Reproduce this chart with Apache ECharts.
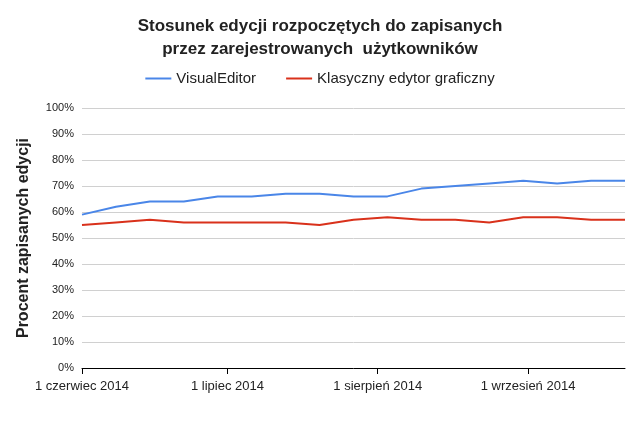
<!DOCTYPE html>
<html><head><meta charset="utf-8">
<script src="https://cdn.jsdelivr.net/npm/echarts@6/dist/echarts.min.js"></script>
<style>html,body{margin:0;padding:0;background:#fff}#c{width:640px;height:431px}</style>
</head><body><div id="c"></div>
<script>
const days = [0,7,14,21,28,35,42,49,56,63,70,77,84,91,98,105,112];
const visualEditor = [59,62,64,64,66,66,67,67,66,66,69,70,71,72,71,72,72];
const classic = [55,56,57,56,56,56,56,55,57,58,57,57,56,58,58,57,57];
const tickDays = [0,30,61,92];
const tickLabels = ['1 czerwiec 2014','1 lipiec 2014','1 sierpień 2014','1 wrzesień 2014'];
const font = '"Liberation Sans", Arial, sans-serif';
const chart = echarts.init(document.getElementById('c'));
chart.setOption({
  animation:false,
  title:{text:'Stosunek edycji rozpoczętych do zapisanych\nprzez zarejestrowanych  użytkowników',left:'center',top:10,
    textStyle:{fontFamily:font,fontSize:17,fontWeight:'bold',color:'#222',lineHeight:23}},
  legend:{top:66,left:'center',itemWidth:26,itemHeight:2,itemGap:30,icon:'rect',
    textStyle:{fontFamily:font,fontSize:15,color:'#222'},data:['VisualEditor','Klasyczny edytor graficzny']},
  grid:{left:82,right:15,top:108,bottom:63},
  xAxis:{type:'value',min:0,max:112,
    axisLine:{lineStyle:{color:'#000'}},
    axisTick:{show:true,customValues:tickDays,length:6,lineStyle:{color:'#000'}},
    axisLabel:{customValues:tickDays,formatter:v=>tickLabels[tickDays.indexOf(v)],fontFamily:font,fontSize:13,color:'#222',margin:12},
    splitLine:{show:false}},
  yAxis:{type:'value',min:0,max:100,interval:10,name:'Procent zapisanych edycji',nameLocation:'middle',nameGap:50,
    nameTextStyle:{fontFamily:font,fontSize:16,fontWeight:'bold',color:'#222'},
    axisLabel:{formatter:'{value}%',fontFamily:font,fontSize:11,color:'#222'},
    axisLine:{show:false},axisTick:{show:false},splitLine:{lineStyle:{color:'#d0d0d0'}}},
  series:[
    {name:'VisualEditor',type:'line',data:days.map((d,i)=>[d,visualEditor[i]]),showSymbol:false,lineStyle:{color:'#4a86e8',width:2},itemStyle:{color:'#4a86e8'}},
    {name:'Klasyczny edytor graficzny',type:'line',data:days.map((d,i)=>[d,classic[i]]),showSymbol:false,lineStyle:{color:'#d9311b',width:2},itemStyle:{color:'#d9311b'}}
  ]
});
</script></body></html>
